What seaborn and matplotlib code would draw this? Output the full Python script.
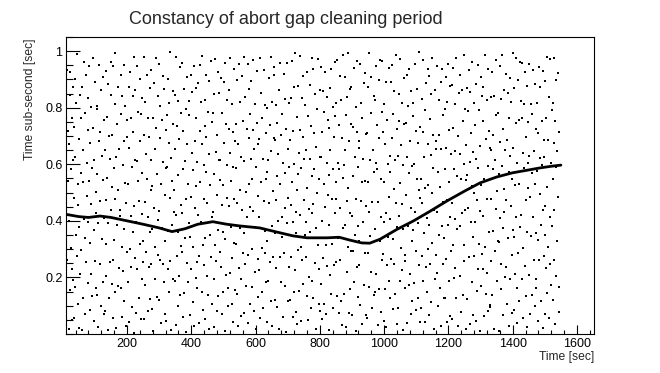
import matplotlib
matplotlib.use("Agg")
from matplotlib import pyplot as plt
from matplotlib.ticker import MultipleLocator, FixedLocator
import numpy as np
import pandas as pd
import seaborn as sns

# scattered readings: event time [sec] and sub-second part [msec]
bg_time = [
    10, 11, 12, 14, 15, 16, 18, 19, 20, 21, 23, 24, 25, 26, 28, 29, 30, 31, 32, 33,
    34, 35, 35, 37, 38, 39, 41, 42, 43, 44, 46, 46, 48, 49, 51, 52, 53, 55, 56, 57,
    58, 60, 61, 62, 63, 64, 65, 67, 68, 69, 70, 71, 73, 74, 75, 77, 78, 78, 80, 81,
    83, 84, 85, 85, 87, 88, 89, 90, 92, 93, 95, 96, 96, 98, 99, 100, 102, 103, 104, 105,
    106, 107, 108, 110, 111, 112, 114, 115, 116, 117, 119, 120, 121, 122, 124, 125, 126, 127, 128, 129,
    130, 132, 133, 134, 135, 136, 137, 139, 140, 141, 142, 143, 145, 146, 147, 149, 150, 150, 152, 153,
    154, 155, 155, 157, 158, 159, 161, 162, 163, 164, 166, 166, 168, 169, 171, 172, 173, 175, 176, 177,
    179, 180, 181, 181, 183, 184, 185, 186, 188, 189, 191, 192, 192, 194, 195, 196, 198, 199, 200, 201,
    202, 204, 205, 206, 207, 208, 209, 211, 212, 213, 214, 215, 217, 218, 219, 221, 222, 222, 224, 225,
    226, 227, 228, 230, 231, 232, 234, 235, 236, 237, 239, 240, 241, 242, 244, 245, 246, 247, 248, 249,
    251, 252, 253, 253, 255, 256, 257, 258, 260, 261, 263, 264, 264, 266, 267, 268, 270, 271, 272, 273,
    274, 275, 275, 277, 278, 279, 281, 282, 283, 284, 286, 286, 288, 289, 291, 292, 293, 295, 296, 297,
    298, 299, 300, 302, 303, 304, 306, 307, 308, 309, 311, 312, 313, 314, 316, 317, 318, 319, 320, 321,
    322, 324, 325, 326, 327, 328, 329, 331, 332, 333, 334, 335, 337, 338, 339, 341, 342, 342, 344, 345,
    347, 348, 349, 349, 351, 352, 353, 354, 356, 357, 359, 360, 360, 362, 363, 364, 366, 367, 368, 369,
    370, 371, 371, 373, 374, 375, 377, 378, 379, 380, 382, 382, 384, 385, 387, 388, 389, 391, 392, 393,
    394, 396, 397, 398, 399, 400, 401, 403, 404, 405, 406, 407, 409, 410, 411, 413, 414, 414, 416, 417,
    418, 419, 420, 422, 423, 424, 426, 427, 428, 429, 431, 432, 433, 434, 436, 437, 438, 439, 440, 441,
    442, 443, 443, 445, 446, 447, 449, 450, 451, 452, 454, 454, 456, 457, 459, 460, 461, 463, 464, 465,
    467, 468, 469, 469, 471, 472, 473, 474, 476, 477, 479, 480, 480, 482, 483, 484, 486, 487, 488, 489,
    490, 491, 492, 494, 495, 496, 498, 499, 500, 501, 503, 504, 505, 506, 508, 509, 510, 511, 512, 513,
    514, 516, 517, 518, 519, 520, 521, 523, 524, 525, 526, 527, 529, 530, 531, 533, 534, 534, 536, 537,
    538, 539, 539, 541, 542, 543, 545, 546, 547, 548, 550, 550, 552, 553, 555, 556, 557, 559, 560, 561,
    563, 564, 565, 565, 567, 568, 569, 570, 572, 573, 575, 576, 576, 578, 579, 580, 582, 583, 584, 585,
    586, 588, 589, 590, 591, 592, 593, 595, 596, 597, 598, 599, 601, 602, 603, 605, 606, 606, 608, 609,
    610, 611, 612, 614, 615, 616, 618, 619, 620, 621, 623, 624, 625, 626, 628, 629, 630, 631, 632, 633,
    635, 636, 637, 637, 639, 640, 641, 642, 644, 645, 647, 648, 648, 650, 651, 652, 654, 655, 656, 657,
    658, 659, 659, 661, 662, 663, 665, 666, 667, 668, 670, 670, 672, 673, 675, 676, 677, 679, 680, 681,
    682, 683, 684, 686, 687, 688, 690, 691, 692, 693, 695, 696, 697, 698, 700, 701, 702, 703, 704, 705,
    706, 708, 709, 710, 711, 712, 713, 715, 716, 717, 718, 719, 721, 722, 723, 725, 726, 726, 728, 729,
    730, 731, 731, 733, 734, 735, 737, 738, 739, 740, 742, 742, 744, 745, 747, 748, 749, 751, 752, 753,
    755, 756, 757, 757, 759, 760, 761, 762, 764, 765, 767, 768, 768, 770, 771, 772, 774, 775, 776, 777,
    778, 779, 780, 782, 783, 784, 786, 787, 788, 789, 791, 792, 793, 794, 796, 797, 798, 799, 800, 801,
    802, 804, 805, 806, 807, 808, 809, 811, 812, 813, 814, 815, 817, 818, 819, 821, 822, 822, 824, 825,
    827, 828, 829, 829, 831, 832, 833, 834, 836, 837, 839, 840, 840, 842, 843, 844, 846, 847, 848, 849,
    850, 851, 851, 853, 854, 855, 857, 858, 859, 860, 862, 862, 864, 865, 867, 868, 869, 871, 872, 873,
    874, 876, 877, 878, 879, 880, 881, 883, 884, 885, 886, 887, 889, 890, 891, 893, 894, 894, 896, 897,
    898, 899, 900, 902, 903, 904, 906, 907, 908, 909, 911, 912, 913, 914, 916, 917, 918, 919, 920, 921,
    922, 923, 923, 925, 926, 927, 929, 930, 931, 932, 934, 934, 936, 937, 939, 940, 941, 943, 944, 945,
    947, 948, 949, 949, 951, 952, 953, 954, 956, 957, 959, 960, 960, 962, 963, 964, 966, 967, 968, 969,
    970, 971, 972, 974, 975, 976, 978, 979, 980, 981, 983, 984, 985, 986, 988, 989, 990, 991, 992, 993,
    994, 996, 997, 998, 999, 1000, 1001, 1003, 1004, 1005, 1006, 1007, 1009, 1010, 1011, 1013, 1014, 1014, 1016, 1017,
    1018, 1019, 1019, 1021, 1022, 1023, 1025, 1026, 1027, 1028, 1030, 1030, 1032, 1033, 1035, 1036, 1037, 1039, 1040, 1041,
    1043, 1044, 1045, 1045, 1047, 1048, 1049, 1050, 1052, 1053, 1055, 1056, 1056, 1058, 1059, 1060, 1062, 1063, 1064, 1065,
    1066, 1068, 1069, 1070, 1071, 1072, 1073, 1075, 1076, 1077, 1078, 1079, 1081, 1082, 1083, 1085, 1086, 1086, 1088, 1089,
    1090, 1091, 1092, 1094, 1095, 1096, 1098, 1099, 1100, 1101, 1103, 1104, 1105, 1106, 1108, 1109, 1110, 1111, 1112, 1113,
    1115, 1116, 1117, 1117, 1119, 1120, 1121, 1122, 1124, 1125, 1127, 1128, 1128, 1130, 1131, 1132, 1134, 1135, 1136, 1137,
    1138, 1139, 1139, 1141, 1142, 1143, 1145, 1146, 1147, 1148, 1150, 1150, 1152, 1153, 1155, 1156, 1157, 1159, 1160, 1161,
    1162, 1163, 1164, 1166, 1167, 1168, 1170, 1171, 1172, 1173, 1175, 1176, 1177, 1178, 1180, 1181, 1182, 1183, 1184, 1185,
    1186, 1188, 1189, 1190, 1191, 1192, 1193, 1195, 1196, 1197, 1198, 1199, 1201, 1202, 1203, 1205, 1206, 1206, 1208, 1209,
    1210, 1211, 1211, 1213, 1214, 1215, 1217, 1218, 1219, 1220, 1222, 1222, 1224, 1225, 1227, 1228, 1229, 1231, 1232, 1233,
    1235, 1236, 1237, 1237, 1239, 1240, 1241, 1242, 1244, 1245, 1247, 1248, 1248, 1250, 1251, 1252, 1254, 1255, 1256, 1257,
    1258, 1259, 1260, 1262, 1263, 1264, 1266, 1267, 1268, 1269, 1271, 1272, 1273, 1274, 1276, 1277, 1278, 1279, 1280, 1281,
    1282, 1284, 1285, 1286, 1287, 1288, 1289, 1291, 1292, 1293, 1294, 1295, 1297, 1298, 1299, 1301, 1302, 1302, 1304, 1305,
    1307, 1308, 1309, 1309, 1311, 1312, 1313, 1314, 1316, 1317, 1319, 1320, 1320, 1322, 1323, 1324, 1326, 1327, 1328, 1329,
    1330, 1331, 1331, 1333, 1334, 1335, 1337, 1338, 1339, 1340, 1342, 1342, 1344, 1345, 1347, 1348, 1349, 1351, 1352, 1353,
    1354, 1356, 1357, 1358, 1359, 1360, 1361, 1363, 1364, 1365, 1366, 1367, 1369, 1370, 1371, 1373, 1374, 1374, 1376, 1377,
    1378, 1379, 1380, 1382, 1383, 1384, 1386, 1387, 1388, 1389, 1391, 1392, 1393, 1394, 1396, 1397, 1398, 1399, 1400, 1401,
    1402, 1403, 1403, 1405, 1406, 1407, 1409, 1410, 1411, 1412, 1414, 1414, 1416, 1417, 1419, 1420, 1421, 1423, 1424, 1425,
    1427, 1428, 1429, 1429, 1431, 1432, 1433, 1434, 1436, 1437, 1439, 1440, 1440, 1442, 1443, 1444, 1446, 1447, 1448, 1449,
    1450, 1451, 1452, 1454, 1455, 1456, 1458, 1459, 1460, 1461, 1463, 1464, 1465, 1466, 1468, 1469, 1470, 1471, 1472, 1473,
    1474, 1476, 1477, 1478, 1479, 1480, 1481, 1483, 1484, 1485, 1486, 1487, 1489, 1490, 1491, 1493, 1494, 1494, 1496, 1497,
    1498, 1499, 1499, 1501, 1502, 1503, 1505, 1506, 1507, 1508, 1510, 1510, 1512, 1513, 1515, 1516, 1517, 1519, 1520, 1521,
    1523, 1524, 1525, 1525, 1527, 1528, 1529, 1530, 1532, 1533, 1535, 1536, 1536, 1538, 1539, 1540, 1542, 1543, 1544, 1545,
]
bg_msec = [
    412, 87, 935, 263, 718, 540, 19, 671, 398, 846, 155, 927, 304, 583, 762, 231, 49, 874, 616, 190,
    733, 58, 481, 902, 167, 625, 349, 816, 274, 991, 530, 106, 457, 688, 22, 379, 845, 213, 569, 764,
    296, 874, 13, 650, 538, 127, 961, 405, 782, 341, 69, 917, 254, 603, 488, 179, 836, 722, 395, 540,
    948, 321, 676, 84, 459, 803, 212, 587, 135, 730, 977, 46, 614, 369, 891, 258, 502, 163, 427, 795,
    567, 139, 806, 392, 24, 683, 951, 248, 715, 470, 98, 862, 336, 629, 184, 543, 907, 71, 411, 758,
    82, 649, 317, 930, 475, 206, 768, 553, 14, 884, 392, 127, 701, 256, 619, 963, 438, 846, 175, 521,
    703, 261, 946, 58, 587, 334, 812, 149, 476, 995, 627, 20, 385, 741, 168, 509, 872, 233, 654, 417,
    438, 915, 162, 779, 306, 61, 842, 597, 224, 683, 950, 371, 118, 534, 806, 27, 463, 698, 289, 757,
    183, 529, 874, 41, 656, 302, 927, 418, 765, 237, 590, 96, 843, 361, 714, 452, 5, 978, 615, 270,
    861, 73, 395, 612, 948, 230, 541, 786, 127, 469, 903, 318, 684, 52, 777, 196, 423, 835, 569, 254,
    327, 702, 54, 981, 468, 819, 173, 635, 290, 547, 916, 83, 764, 412, 236, 698, 871, 125, 359, 508,
    615, 248, 933, 371, 87, 524, 762, 10, 889, 446, 196, 653, 307, 975, 729, 564, 132, 841, 278, 403,
    954, 436, 119, 807, 263, 692, 531, 38, 374, 755, 912, 247, 608, 185, 866, 493, 71, 329, 720, 587,
    46, 773, 592, 228, 901, 365, 674, 149, 817, 480, 258, 997, 623, 15, 541, 386, 742, 193, 859, 430,
    509, 187, 846, 653, 32, 419, 978, 276, 734, 361, 825, 98, 562, 204, 691, 943, 137, 457, 780, 312,
    291, 958, 427, 60, 718, 583, 145, 866, 339, 612, 8, 794, 476, 251, 907, 673, 184, 530, 825, 392,
    774, 342, 68, 915, 486, 231, 639, 857, 112, 579, 307, 946, 27, 683, 445, 765, 198, 522, 870, 254,
    163, 609, 887, 421, 275, 40, 952, 537, 718, 396, 821, 149, 670, 983, 314, 85, 476, 243, 598, 737,
    827, 54, 341, 698, 572, 916, 206, 463, 784, 139, 635, 17, 895, 350, 528, 271, 964, 412, 107, 749,
    430, 782, 195, 567, 23, 849, 316, 971, 642, 258, 704, 491, 81, 927, 369, 136, 615, 853, 544, 290,
    615, 238, 904, 72, 457, 783, 361, 526, 149, 890, 674, 12, 335, 958, 207, 741, 482, 599, 826, 163,
    98, 726, 453, 864, 217, 639, 975, 380, 541, 106, 812, 267, 590, 43, 714, 936, 322, 478, 681, 155,
    742, 319, 586, 140, 897, 463, 28, 671, 955, 234, 508, 819, 376, 62, 627, 195, 913, 440, 753, 286,
    356, 981, 74, 612, 249, 837, 503, 168, 726, 415, 39, 954, 281, 694, 867, 532, 107, 449, 776, 620,
    893, 165, 547, 302, 968, 720, 436, 81, 654, 219, 813, 377, 592, 16, 745, 930, 264, 488, 129, 671,
    227, 689, 412, 975, 56, 538, 851, 304, 763, 147, 620, 92, 934, 471, 286, 809, 365, 548, 711, 183,
    571, 43, 798, 329, 614, 187, 905, 462, 256, 738, 981, 115, 647, 383, 820, 29, 506, 272, 943, 694,
    914, 356, 687, 121, 472, 809, 233, 560, 97, 745, 398, 636, 18, 863, 529, 271, 957, 184, 702, 415,
    342, 776, 59, 603, 918, 285, 447, 831, 170, 569, 725, 6, 394, 958, 653, 116, 482, 817, 236, 591,
    685, 119, 833, 457, 272, 964, 538, 61, 719, 396, 147, 874, 602, 225, 993, 431, 78, 357, 766, 510,
    37, 564, 297, 876, 641, 153, 419, 983, 722, 308, 586, 45, 835, 261, 697, 912, 178, 473, 620, 349,
    808, 273, 652, 395, 134, 927, 516, 48, 769, 441, 203, 881, 617, 359, 92, 735, 559, 974, 186, 428,
    461, 936, 128, 709, 583, 252, 847, 373, 19, 661, 498, 795, 314, 972, 230, 548, 107, 864, 627, 82,
    176, 625, 943, 52, 398, 714, 267, 859, 531, 106, 784, 449, 926, 313, 69, 605, 837, 241, 492, 758,
    729, 384, 15, 561, 870, 207, 652, 937, 141, 476, 318, 804, 583, 93, 698, 245, 961, 427, 770, 536,
    253, 818, 479, 136, 967, 604, 341, 75, 739, 585, 912, 263, 447, 826, 118, 692, 30, 374, 551, 985,
    596, 142, 907, 384, 651, 26, 773, 469, 218, 839, 517, 993, 306, 681, 74, 427, 865, 160, 742, 295,
    874, 417, 66, 731, 293, 558, 942, 185, 627, 349, 803, 12, 476, 965, 238, 714, 590, 131, 382, 657,
    329, 681, 243, 956, 104, 470, 817, 539, 35, 762, 397, 618, 889, 174, 542, 286, 923, 68, 707, 453,
    712, 58, 539, 286, 874, 431, 167, 993, 615, 346, 782, 219, 908, 93, 467, 651, 325, 840, 574, 138,
    148, 826, 371, 604, 947, 212, 583, 739, 31, 465, 897, 158, 692, 327, 970, 548, 76, 413, 785, 262,
    964, 283, 715, 47, 536, 812, 397, 159, 673, 428, 24, 891, 245, 758, 602, 343, 939, 187, 486, 631,
    407, 573, 128, 892, 265, 694, 951, 336, 87, 778, 513, 249, 860, 615, 142, 987, 462, 35, 726, 379,
    631, 92, 848, 417, 752, 186, 534, 972, 303, 669, 227, 815, 458, 14, 596, 371, 906, 741, 278, 163,
    258, 746, 493, 914, 38, 627, 381, 805, 174, 569, 936, 212, 683, 445, 72, 858, 327, 594, 117, 770,
    815, 367, 602, 179, 953, 433, 86, 718, 294, 547, 865, 126, 391, 674, 998, 245, 509, 41, 732, 482,
    93, 548, 276, 831, 462, 715, 189, 967, 357, 624, 42, 793, 515, 238, 886, 409, 149, 672, 936, 302,
    527, 913, 384, 67, 759, 246, 632, 849, 113, 498, 975, 321, 586, 702, 18, 437, 864, 193, 655, 278,
    682, 215, 948, 432, 571, 98, 826, 349, 703, 164, 519, 891, 27, 655, 383, 937, 248, 774, 466, 127,
    341, 794, 126, 583, 907, 265, 658, 43, 472, 819, 386, 954, 187, 721, 539, 64, 412, 876, 295, 637,
    879, 462, 53, 729, 316, 941, 583, 197, 648, 235, 814, 407, 976, 128, 560, 372, 701, 29, 495, 852,
    205, 637, 914, 381, 76, 548, 863, 429, 752, 138, 986, 315, 601, 257, 438, 794, 19, 667, 543, 871,
    562, 124, 789, 446, 933, 271, 608, 35, 857, 397, 710, 183, 524, 962, 68, 643, 342, 815, 276, 497,
    738, 396, 45, 617, 884, 152, 473, 951, 229, 586, 319, 792, 9, 664, 435, 907, 168, 527, 843, 283,
    416, 873, 231, 754, 62, 548, 985, 307, 691, 143, 826, 478, 215, 937, 593, 82, 362, 719, 658, 104,
    94, 651, 837, 258, 479, 926, 137, 705, 364, 582, 19, 843, 616, 295, 968, 441, 773, 186, 507, 328,
    783, 324, 567, 12, 946, 409, 679, 158, 831, 246, 593, 987, 375, 724, 67, 514, 862, 432, 203, 651,
    237, 918, 473, 685, 106, 852, 341, 573, 29, 764, 195, 628, 906, 452, 819, 281, 547, 73, 994, 366,
    659, 86, 342, 871, 528, 213, 976, 414, 745, 163, 604, 39, 897, 286, 531, 755, 118, 963, 377, 822,
    421, 764, 193, 957, 304, 639, 57, 813, 586, 241, 928, 472, 135, 698, 875, 362, 24, 517, 749, 606,
    953, 207, 628, 485, 71, 812, 346, 569, 139, 778, 412, 934, 261, 647, 98, 530, 885, 193, 726, 358,
    164, 578, 816, 332, 709, 47, 945, 263, 495, 621, 873, 118, 384, 752, 596, 22, 931, 437, 686, 275,
    627, 349, 71, 896, 453, 232, 764, 981, 518, 146, 685, 307, 839, 58, 412, 973, 249, 604, 172, 791,
    382, 815, 547, 119, 976, 263, 674, 438, 35, 752, 591, 897, 204, 646, 329, 921, 486, 78, 713, 165,
]

# the dense band of cleaning pulses drifting in sub-second phase
curve_time = [10, 50, 80, 116, 150, 200, 250, 300, 340, 380, 420, 467, 510, 551,
              613, 660, 716, 760, 822, 860, 893, 930, 955, 987, 1040, 1090, 1140,
              1195, 1250, 1298, 1350, 1400, 1450, 1484, 1520, 1550]
curve_frac = [0.423, 0.415, 0.412, 0.417, 0.412, 0.400, 0.388, 0.375, 0.362, 0.372,
              0.388, 0.397, 0.388, 0.382, 0.375, 0.362, 0.347, 0.340, 0.340, 0.342,
              0.332, 0.322, 0.321, 0.335, 0.370, 0.399, 0.432, 0.470, 0.505, 0.534,
              0.555, 0.570, 0.580, 0.587, 0.593, 0.597]

x_major = [200, 400, 600, 800, 1000, 1200, 1400, 1600]
y_major = [0.2, 0.4, 0.6, 0.8, 1.0]
y_labels = ["0.2", "0.4", "0.6", "0.8", "1"]

n = min(len(bg_time), len(bg_msec))
bg = pd.DataFrame({"time": bg_time[:n], "frac": np.array(bg_msec[:n]) / 1000.0})
band = pd.DataFrame({"time": curve_time, "frac": curve_frac})

sns.set_theme(style="ticks")
plt.rcParams["font.family"] = ["Liberation Sans", "DejaVu Sans"]

fig = plt.figure(figsize=(6.6, 3.73), dpi=100)
ax = fig.add_axes([0.1, 0.1046, 0.8, 0.7962])

sns.scatterplot(data=bg, x="time", y="frac", ax=ax, marker="s", s=2.2,
                color="black", linewidth=0, legend=False)
sns.lineplot(data=band, x="time", y="frac", ax=ax, color="black", lw=2.0,
             estimator=None, sort=True)

ax.set_xlim(10, 1653)
ax.set_ylim(0, 1.05)
ax.xaxis.set_major_locator(FixedLocator(x_major))
ax.xaxis.set_minor_locator(MultipleLocator(40))
ax.yaxis.set_major_locator(FixedLocator(y_major))
ax.yaxis.set_minor_locator(MultipleLocator(0.05))
ax.set_yticklabels(y_labels)

ax.tick_params(axis="both", which="both", direction="in", colors="black",
               labelsize=9, width=0.8, top=False, right=False)
ax.tick_params(axis="x", which="major", length=6.5, pad=3.0)
ax.tick_params(axis="x", which="minor", length=3.2)
ax.tick_params(axis="y", which="major", length=10, pad=2.5)
ax.tick_params(axis="y", which="minor", length=4.7)
for s in ax.spines.values():
    s.set_linewidth(0.8)
    s.set_color("black")

ax.set_xlabel("")
ax.set_ylabel("")
fig.text(0.9, 1 - 357 / 373, "Time [sec]", ha="right", va="center", fontsize=8.7)
fig.text(30 / 660, 1 - 38 / 373, "Time sub-second [sec]", rotation=90,
         ha="center", va="top", fontsize=8.7)
fig.text(129 / 660, 1 - 24 / 373, "Constancy of abort gap cleaning period",
         ha="left", va="baseline", fontsize=13)

fig.savefig("out.png", dpi=100)
